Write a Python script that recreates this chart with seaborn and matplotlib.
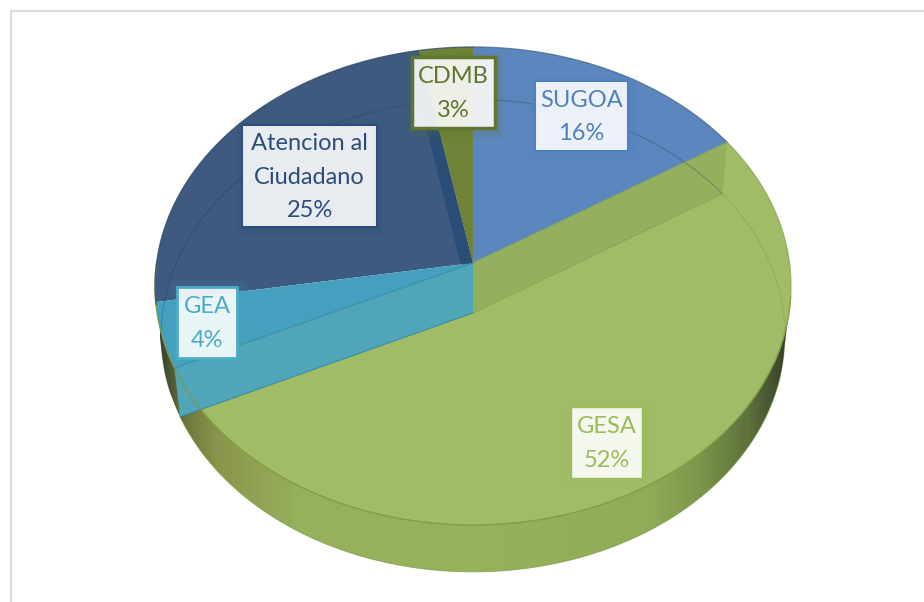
import matplotlib

matplotlib.use("Agg")
import matplotlib.pyplot as plt
import numpy as np
import seaborn as sns
from matplotlib.colors import LinearSegmentedColormap
from matplotlib.patches import Polygon, Rectangle
from matplotlib.transforms import Transform

# slices, clockwise from 12 o'clock
categories = ["SUGOA", "GESA", "GEA", "Atencion al\nCiudadano", "CDMB"]
shares = [16, 52, 4.4, 24.6, 3]

face_colors = ["#5B87BE", "#A1BC66", "#44A0BE", "#3E5A80", "#6E8238"]
text_colors = ["#4F81BD", "#9BBB59", "#4BACC6", "#2C4D7A", "#5F7530"]
# left, top, right, bottom of each label box, in pixels
label_boxes = [
    (535, 81, 628, 151),
    (571, 407, 642, 478),
    (177, 287, 237, 358),
    (242, 125, 377, 227),
    (412, 57, 495, 128),
]
border_widths = [1.5, 1.0, 2.0, 1.5, 2.5]

CX = 473
TILT = 0.096
TOP = dict(cy=263, a=316.5, b=236.8)
BOTTOM = dict(cy=313, a=310.5, b=234.0)


def project(theta, disc):
    u, v = np.cos(np.radians(theta)), np.sin(np.radians(theta))
    w = 1 + TILT * v
    return CX + disc["a"] * u / w, disc["cy"] - disc["b"] * v / w


class TiltTransform(Transform):
    # unit circle of the pie -> perspective view of the top of the disc
    input_dims = output_dims = 2

    def transform_non_affine(self, values):
        values = np.asarray(values)
        w = 1 + TILT * values[:, 1]
        x = CX + TOP["a"] * values[:, 0] / w
        y = TOP["cy"] - TOP["b"] * values[:, 1] / w
        return np.column_stack([x, y])


def wall(ax, theta, color, zorder):
    x0, y0 = project(theta, TOP)
    x1, y1 = project(theta, BOTTOM)
    ax.fill(
        [CX, x0, x1, CX],
        [TOP["cy"], y0, y1, BOTTOM["cy"]],
        color=color,
        lw=0,
        zorder=zorder,
    )


def rim(ax, start, stop, disc, color, lw, alpha, zorder):
    theta = np.linspace(start, stop, 120)
    x, y = project(theta, disc)
    ax.plot(x, y, color=color, lw=lw, alpha=alpha, zorder=zorder)


sns.set_theme(style="white")
plt.rcParams["font.family"] = ["Lato", "DejaVu Sans"]

palette = sns.color_palette(face_colors)
fig = plt.figure(figsize=(9.24, 6.02), dpi=100)
ax = fig.add_axes([0, 0, 1, 1])

wedges, _ = ax.pie(
    shares,
    colors=palette,
    startangle=90,
    counterclock=False,
    wedgeprops={"linewidth": 0},
)
tilt = TiltTransform() + ax.transData
for wedge in wedges:
    wedge.set_transform(tilt)

sugoa, gesa, gea, atencion, cdmb = wedges
sugoa.set_zorder(3)
gesa.set_zorder(5)
gea.set_zorder(7)
atencion.set_zorder(2)
cdmb.set_zorder(4)

# outer wall of the disc, dark at both ends and lit in the middle
wall_shades = [
    (0.00, "#3C4629"),
    (0.04, "#6E783C"),
    (0.09, "#8A964B"),
    (0.22, "#96B05C"),
    (0.50, "#96B25C"),
    (0.78, "#91AC58"),
    (0.86, "#7D964B"),
    (0.94, "#5E723C"),
    (1.00, "#374128"),
]
wall_cmap = LinearSegmentedColormap.from_list("wall", wall_shades)
gradient = ax.imshow(
    np.linspace(0, 1, 400).reshape(1, -1),
    cmap=wall_cmap,
    extent=(160, 788, 580, 290),
    aspect="auto",
    zorder=1,
)
front = np.linspace(190, 352, 160)
wall_x = np.r_[project(front, TOP)[0], project(front[::-1], BOTTOM)[0]]
wall_y = np.r_[project(front, TOP)[1], project(front[::-1], BOTTOM)[1]]
clip = Polygon(np.column_stack([wall_x, wall_y]), transform=ax.transData)
gradient.set_clip_path(clip)

ax.set_aspect("auto")
ax.set_xlim(0, 924)
ax.set_ylim(602, 0)
ax.set_axis_off()

# inner walls seen through the glass
wall(ax, cdmb.theta2, "#2B4D78", 3)
wall(ax, gesa.theta2, "#94AF5E", 6)
wall(ax, gesa.theta1, "#50A5B9", 7)

# thin edge lines
rim(ax, -18, gesa.theta2, BOTTOM, "#5E7A35", 0.8, 0.2, 8)
rim(ax, gesa.theta2, 200, BOTTOM, "#1F3550", 0.8, 0.3, 8)
rim(ax, 205, 345, BOTTOM, "#7B9A42", 0.7, 0.7, 1.5)
rim(ax, 180, 352, TOP, "#7B9A42", 1.0, 0.9, 8)
rim(ax, -24, gesa.theta2, TOP, "#8CA855", 0.9, 0.8, 8)
rim(ax, gesa.theta2, 90, TOP, "#3B5A80", 0.9, 0.7, 8)
rim(ax, 90, 190, TOP, "#26405F", 0.9, 0.7, 8)
for theta, disc, color in [
    (gesa.theta1, TOP, "#2F87A6"),
    (gesa.theta1, BOTTOM, "#2F87A6"),
    (gesa.theta2, TOP, "#86A254"),
    (gesa.theta2, BOTTOM, "#86A254"),
]:
    x, y = project(theta, disc)
    ax.plot([CX, x], [disc["cy"], y], color=color, lw=0.8, alpha=0.8, zorder=8)

# labels
for name, share, box, color, width in zip(
    categories, shares, label_boxes, text_colors, border_widths
):
    left, top, right, bottom = box
    for grow, alpha in [(9, 0.05), (6, 0.07), (3, 0.09)]:
        ax.add_patch(
            Rectangle(
                (left - grow + 2, top - grow + 3),
                right - left + 2 * grow,
                bottom - top + 2 * grow,
                facecolor=color,
                edgecolor="none",
                alpha=alpha,
                zorder=9,
            )
        )
    ax.add_patch(
        Rectangle(
            (left, top),
            right - left,
            bottom - top,
            facecolor=(1, 1, 1, 0.89),
            edgecolor=color,
            lw=width,
            zorder=10,
        )
    )
    ax.text(
        (left + right) / 2,
        (top + bottom) / 2 + 1,
        f"{name}\n{round(share)}%",
        ha="center",
        va="center",
        color=color,
        fontsize=17,
        linespacing=1.72,
        zorder=11,
    )

# picture frame, only its top and left edges are in view
ax.plot([11, 11, 924], [602, 11, 11], color="#DCDCDC", lw=1.6, zorder=0)

fig.savefig("out.png", dpi=100)
